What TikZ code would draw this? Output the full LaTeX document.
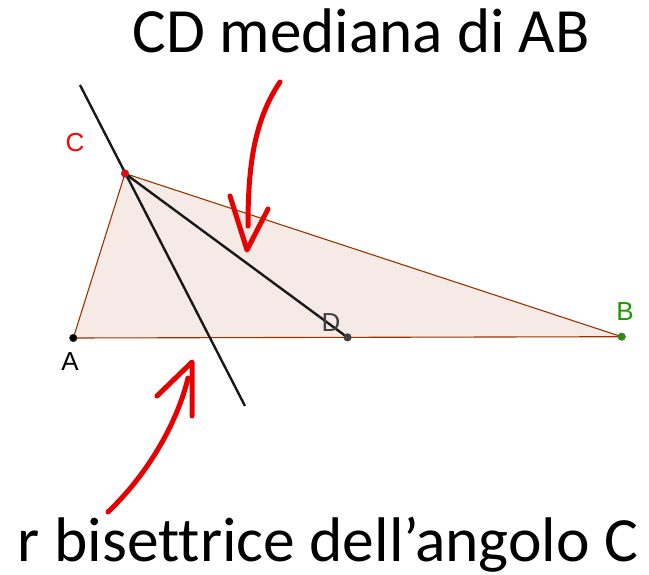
\documentclass[tikz,border=0pt]{standalone}
\usepackage{fontspec}
\usepackage{graphicx}
\setmainfont[Ligatures=CommonOff]{Carlito}
\newfontfamily\lblfont{Liberation Sans}
\definecolor{polyedge}{RGB}{153,51,0}
\definecolor{ggred}{RGB}{255,0,0}
\definecolor{gggreen}{RGB}{30,150,0}
\definecolor{arrowred}{RGB}{230,0,0}
\tikzset{
  title/.style={anchor=base, inner sep=0pt, font=\fontsize{63}{70}\selectfont},
  lbl/.style={inner sep=0pt, font=\lblfont\fontsize{26}{28}\selectfont},
  geoline/.style={line width=2.4pt, black!90},
  redarrow/.style={line width=5pt, arrowred, line cap=round, line join=round},
  dotpt/.style={circle, inner sep=0pt, minimum size=7.5pt, draw=black!80, line width=0.6pt}
}
\begin{document}
\begin{tikzpicture}[x=1pt,y=-1pt]
\useasboundingbox (0,0) rectangle (649,575);
\coordinate (A) at (73.3,338);
\coordinate (B) at (621.7,336.7);
\coordinate (C) at (125,173.5);
\coordinate (D) at (347.5,337.4);
\coordinate (rtop) at (80,85);
\coordinate (rbot) at (245,406);
% triangle
\fill[polyedge, opacity=0.1] (A) -- (B) -- (C) -- cycle;
\draw[polyedge, line width=1.1pt] (A) -- (B) -- (C) -- cycle;
% lines
\draw[geoline] (rtop) -- (rbot);
\draw[geoline] (C) -- (D);
% points
\node[dotpt, fill=black] (pA) at (A) {};
\node[dotpt, fill=black!75, draw=black!75] (pD) at (D) {};
\node[dotpt, fill=ggred, draw=black!70] (pC) at (C) {};
\node[dotpt, fill=gggreen, draw=black!60] (pB) at (B) {};
% labels
\node[lbl, text=ggred] (lC) at (75,143) {C};
\node[lbl, text=black] (lA) at (70,362) {A};
\node[lbl, text=gggreen] (lB) at (625,312) {B};
\node[lbl, text=black!75] (lD) at (331,323) {D};
% titles
\node[title] (t1) at (361.5,53) {\resizebox{457pt}{\height}{CD mediana di AB}};
\node[title] (t2) at (328,561) {\resizebox{620pt}{\height}{r bisettrice dell’angolo C}};
% red arrows
\coordinate (s1) at (280,82);
\coordinate (e1) at (248,226);
\coordinate (h1l) at (230,196);
\coordinate (h1t) at (247,250);
\coordinate (h1r) at (268,209);
\draw[redarrow] (s1) .. controls (253,122) and (248,170) .. (e1);
\draw[redarrow] (h1l) -- (h1t) -- (h1r);
\coordinate (s2) at (108,512);
\coordinate (e2) at (188,378);
\coordinate (h2l) at (157,396);
\coordinate (h2t) at (192,362);
\coordinate (h2r) at (192,416);
\draw[redarrow] (s2) .. controls (150,472) and (178,420) .. (e2);
\draw[redarrow] (h2l) -- (h2t) -- (h2r);
\end{tikzpicture}
\end{document}
